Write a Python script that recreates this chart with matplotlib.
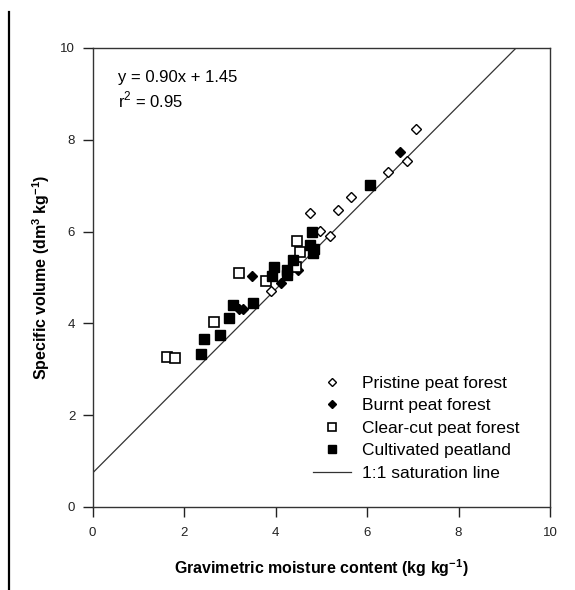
import numpy as np
import matplotlib
matplotlib.use('Agg')
import matplotlib.pyplot as plt
from matplotlib.lines import Line2D

plt.rcParams['font.family'] = ['Liberation Sans', 'DejaVu Sans']

# data (gravimetric moisture, specific volume)
pristine_x = [7.08, 6.88, 6.46, 5.65, 5.37, 4.75, 4.97, 5.19, 3.89]
pristine_y = [8.23, 7.54, 7.30, 6.75, 6.47, 6.40, 6.02, 5.90, 4.71]

burnt_x = [6.72, 4.49, 4.11, 3.48, 3.20, 3.29]
burnt_y = [7.74, 5.16, 4.87, 5.04, 4.31, 4.31]

clearcut_x = [4.47, 4.53, 4.44, 3.79, 3.20, 2.66, 1.63, 1.81]
clearcut_y = [5.80, 5.56, 5.22, 4.93, 5.09, 4.04, 3.27, 3.25]

cultivated_x = [6.06, 4.79, 4.75, 4.84, 4.82, 4.38, 4.24, 4.26, 3.96, 3.93,
                3.50, 3.07, 2.99, 2.79, 2.44, 2.38]
cultivated_y = [7.01, 6.00, 5.71, 5.61, 5.53, 5.38, 5.16, 5.05, 5.22, 5.03,
                4.45, 4.40, 4.12, 3.75, 3.65, 3.33]

sat_x = [0, 10]
sat_offset = 0.74  # 1:1 line intercept

ticks = [0, 2, 4, 6, 8, 10]

fig = plt.figure(figsize=(5.75, 5.90), dpi=100)
ax = fig.add_axes([0.161, 0.1407, 0.7955, 0.778])

ax.plot(sat_x, np.array(sat_x) + sat_offset, color='#333333', lw=0.9,
        label='1:1 saturation line', zorder=1)

ax.plot(pristine_x, pristine_y, 'D', ms=5.5, mfc='white', mec='black', mew=1.0,
        label='Pristine peat forest', zorder=3)
ax.plot(burnt_x, burnt_y, 'D', ms=5, mfc='black', mec='black',
        label='Burnt peat forest', zorder=3)
ax.plot(clearcut_x, clearcut_y, 's', ms=7, mfc='white', mec='black', mew=1.2,
        label='Clear-cut peat forest', zorder=3)
ax.plot(cultivated_x, cultivated_y, 's', ms=7.5, mfc='black', mec='black',
        label='Cultivated peatland', zorder=3)

ax.set_xlim(0, 10)
ax.set_ylim(0, 10)
ax.set_xticks(ticks)
ax.set_yticks(ticks)
ax.tick_params(direction='out', length=7.5, width=1, labelsize=9.5,
               colors='#222222')
ax.tick_params(axis='x', pad=7)
ax.tick_params(axis='y', pad=5)
for s in ax.spines.values():
    s.set_linewidth(1.0)
    s.set_color('#333333')

ax.set_xlabel('Gravimetric moisture content (kg kg$^{\\mathregular{-1}}$)',
              fontsize=11.5, fontweight='bold', labelpad=13)
ax.set_ylabel('Specific volume (dm$^{\\mathregular{3}}$ kg$^{\\mathregular{-1}}$)',
              fontsize=11.5, fontweight='bold', labelpad=6)

ax.text(0.55, 9.35, 'y = 0.90x + 1.45', fontsize=12, va='center', ha='left')
ax.text(0.55, 8.87, 'r$^{\\mathregular{2}}$ = 0.95', fontsize=12, va='center', ha='left')

h, l = ax.get_legend_handles_labels()
order = [1, 2, 3, 4, 0]
ax.legend([h[i] for i in order], [l[i] for i in order], loc='upper left',
          bbox_to_anchor=(0.482, 0.286), borderaxespad=0, borderpad=0,
          frameon=False, fontsize=12.5,
          labelspacing=0.42, handlelength=2.2, handletextpad=0.6,
          markerscale=0.75)

# thin rule at the left edge of the page
fig.add_artist(Line2D([0.015, 0.015], [0.0, 0.98], color='black', lw=1.6))

fig.savefig('out.png', dpi=100)
